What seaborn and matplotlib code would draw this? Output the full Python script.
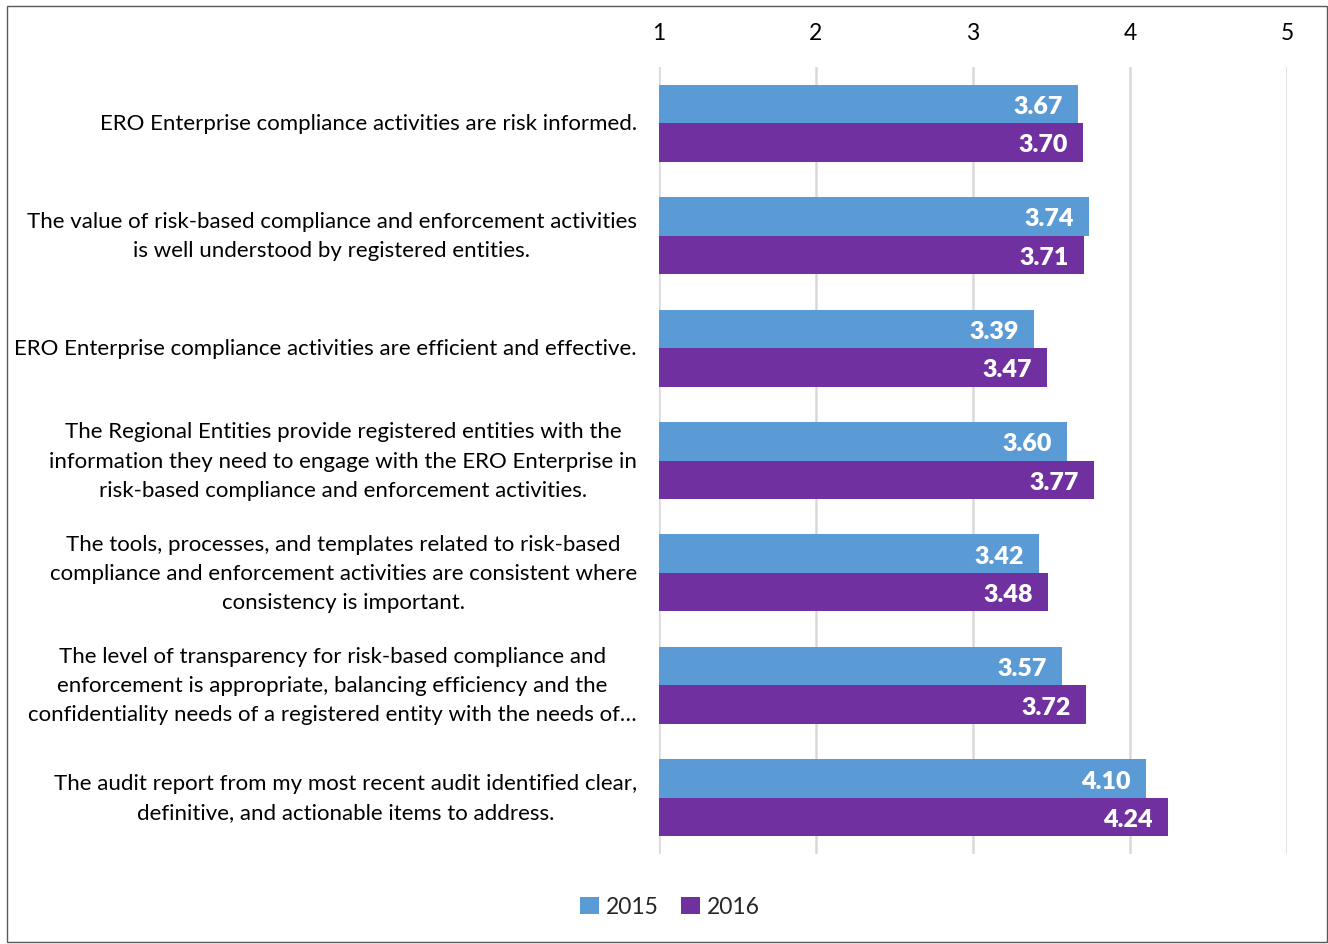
import matplotlib
matplotlib.use("Agg")
import matplotlib.pyplot as plt
import seaborn as sns
import pandas as pd
from matplotlib.patches import Rectangle

categories = [
    "ERO Enterprise compliance activities are risk informed.",
    "The value of risk-based compliance and enforcement activities\nis well understood by registered entities.",
    "ERO Enterprise compliance activities are efficient and effective.",
    "The Regional Entities provide registered entities with the\ninformation they need to engage with the ERO Enterprise in\nrisk-based compliance and enforcement activities.",
    "The tools, processes, and templates related to risk-based\ncompliance and enforcement activities are consistent where\nconsistency is important.",
    "The level of transparency for risk-based compliance and\nenforcement is appropriate, balancing efficiency and the\nconfidentiality needs of a registered entity with the needs of\u2026",
    "The audit report from my most recent audit identified clear,\ndefinitive, and actionable items to address.",
]
values_2015 = [3.67, 3.74, 3.39, 3.60, 3.42, 3.57, 4.10]
values_2016 = [3.70, 3.71, 3.47, 3.77, 3.48, 3.72, 4.24]
years = ["2015", "2016"]
colors = ["#5B9BD5", "#7030A0"]

df = pd.DataFrame({
    "category": categories * 2,
    "value": values_2015 + values_2016,
    "year": [years[0]] * len(categories) + [years[1]] * len(categories),
})

sns.set_theme(style="white")
plt.rcParams["font.family"] = ["Lato", "DejaVu Sans"]

fig = plt.figure(figsize=(13.28, 9.45), dpi=100)
ax = fig.add_axes([659 / 1328, 1 - 855 / 945, (1287 - 659) / 1328, (855 - 68) / 945])

sns.barplot(data=df, y="category", x="value", hue="year", orient="h",
            palette=colors, width=0.685, ax=ax, saturation=1,
            edgecolor="none", linewidth=0, legend=True)

ax.set_xlim(1, 5)
ax.set_xticks([1, 2, 3, 4, 5])
ax.xaxis.tick_top()
ax.tick_params(axis="x", length=0, pad=17, labelsize=16.5, colors="black")
ax.tick_params(axis="y", length=0, pad=16, labelsize=16, colors="black")
for lab in ax.get_yticklabels():
    lab.set_multialignment("center")
    lab.set_linespacing(1.57)
    lab.set_va("center")
ax.set_xlabel("")
ax.set_ylabel("")
ax.grid(axis="x", color="#D9D9D9", linewidth=1.8)
ax.set_axisbelow(True)
for s in ax.spines.values():
    s.set_visible(False)

for cont in ax.containers:
    texts = ax.bar_label(cont, fmt="%.2f", padding=-11, color="white",
                         fontsize=18, fontweight="heavy")
    for t in texts:
        t.set_ha("right")
        t.set_va("center_baseline")

leg = ax.legend(loc="center", bbox_to_anchor=(670 / 1328, 1 - 908 / 945),
                bbox_transform=fig.transFigure, ncol=2, frameon=False,
                fontsize=16.5, handlelength=0.8, handleheight=0.8,
                handletextpad=0.3, columnspacing=1.0)

fig.patches.append(Rectangle((7 / 1328, 2 / 945), 1 - 8 / 1328, 1 - 9 / 945,
                             transform=fig.transFigure, fill=False,
                             edgecolor="#595959", linewidth=1))

fig.savefig("out.png", dpi=100)
